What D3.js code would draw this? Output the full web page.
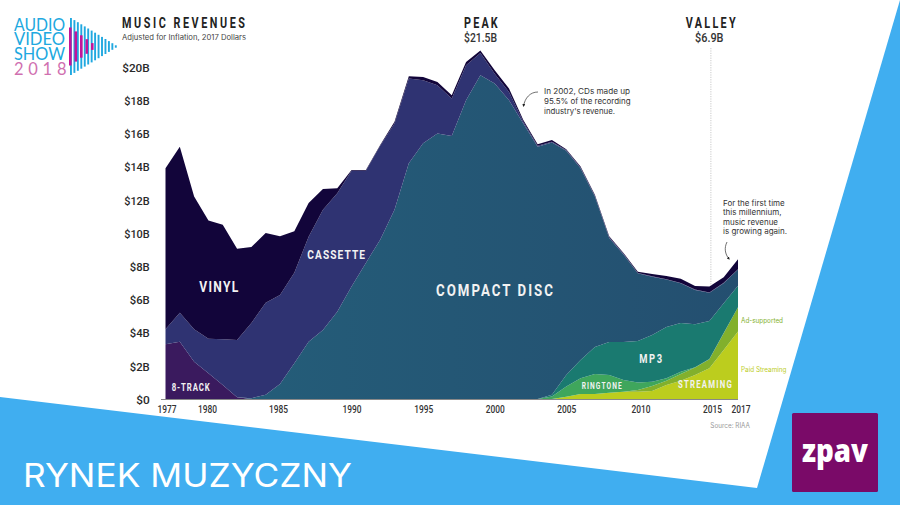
<!DOCTYPE html>
<html><head><meta charset="utf-8">
<script src="https://cdn.jsdelivr.net/npm/d3@7"></script>
<style>
html,body{margin:0;padding:0;background:#fff}
svg{display:block}
text{font-family:"Roboto",sans-serif}
</style></head><body>
<svg id="c" width="900" height="505"></svg>
<script>
const years = d3.range(1977, 2018);
const eightTrack = [3.3,3.45,2.25,1.55,.85,.1,0,0,0,0,0,0,0,0,0,0,0,0,0,0,0,0,0,0,0,0,0,0,0,0,0,0,0,0,0,0,0,0,0,0,0];
const paidStreaming = [0,0,0,0,0,0,0,0,0,0,0,0,0,0,0,0,0,0,0,0,0,0,0,0,0,0,0,0,.14,.3,.3,.38,.44,.44,.48,.84,1.1,1.45,1.85,2.95,4.06];
const adSupported = [0,0,0,0,0,0,0,0,0,0,0,0,0,0,0,0,0,0,0,0,0,0,0,0,0,0,0,0,0,0,0,0,0,.1,.3,.26,.4,.45,.54,1.01,1.46];
const ringtone = [0,0,0,0,0,0,0,0,0,0,0,0,0,0,0,0,0,0,0,0,0,0,0,0,0,0,0,.15,.61,.95,1.2,1.07,.71,.46,.26,.15,.14,.02,.02,.01,.01];
const mp3 = [0,0,0,0,0,0,0,0,0,0,0,0,0,0,0,0,0,0,0,0,0,0,0,0,0,0,0,.1,.7,1.1,1.63,1.98,2.28,2.5,2.81,3.08,2.94,2.58,2.29,1.8,1.29];
const compactDisc = [0,0,0,0,0,0,.05,.25,.9,2.15,3.45,4.15,5.25,6.77,8.2,9.6,11.4,14.2,15.4,16,15.85,18,19.5,19,18,16.6,15.2,15.2,13.5,11.55,9.07,6.27,5.27,4.07,3.52,2.87,2.39,2.07,1.7,1.21,.98];
const cassette = [.9,1.75,1.95,2.08,2.75,3.45,4.53,5.55,5.37,5.45,6.33,7.25,7.15,6.98,5.55,5.65,5.2,5.1,3.8,2.9,2.25,2.1,1.35,.6,.5,.1,.05,.05,.05,.05,.05,.05,.05,.02,.02,.02,.02,.02,.02,.02,.02];
const vinyl = [9.7,10,8,7.12,6.9,5.5,4.57,4.2,3.53,2.5,2.02,1.25,.3,.05,.05,.05,.1,.15,.2,.2,.2,.2,.15,.2,.2,.1,.1,.1,.05,.05,.05,.05,.05,.08,.14,.19,.26,.22,.35,.33,.6];
const seriesNames = ["eightTrack","paidStreaming","adSupported","ringtone","mp3","compactDisc","cassette","vinyl"];
const seriesValues = [eightTrack,paidStreaming,adSupported,ringtone,mp3,compactDisc,cassette,vinyl];
const seriesColors = ["#3a1a5e","#bccd1e","#82b02c","#3fa65c","#1a7a70","url(#cdGrad)","#2f3372","#12053a"];
const yTicks = [0,2,4,6,8,10,12,14,16,18,20];
const xTicks = [1977,1980,1985,1990,1995,2000,2005,2010,2015,2017];

const svg = d3.select("#c");
const x = d3.scaleLinear().domain([1977,2017]).range([165.5,738]);
const y = d3.scaleLinear().domain([0,20]).range([399,67]);

const defs = svg.append("defs");
const grad = defs.append("linearGradient").attr("id","cdGrad");
grad.append("stop").attr("offset","0%").attr("stop-color","#245f7a");
grad.append("stop").attr("offset","100%").attr("stop-color","#244f70");

svg.append("rect").attr("width",900).attr("height",505).attr("fill","#40aef0");
svg.append("path").attr("d","M0,0H900L757,488L0,397Z").attr("fill","#fff");

const table = years.map((yr,i)=>{const o={year:yr};seriesNames.forEach((n,k)=>o[n]=seriesValues[k][i]);return o;});
const stack = d3.stack().keys(seriesNames)(table);
const area = d3.area().x(d=>x(d.data.year)).y0(d=>y(d[0])).y1(d=>y(d[1]));
svg.append("g").selectAll("path").data(stack).join("path")
  .attr("d",area).attr("fill",(d,i)=>seriesColors[i]);

// axes
const yAxis = svg.append("g").attr("transform","translate(149.7,0)")
  .call(d3.axisLeft(y).tickValues(yTicks).tickSize(0).tickPadding(0).tickFormat(d=>"$"+d+(d?"B":"")));
yAxis.select(".domain").remove();
yAxis.selectAll("text").attr("font-size",11.5).attr("font-weight",500).attr("fill","#2a2a2a")
  .attr("dy","0.38em")
  .attr("textLength",d=>d===0?13.5:(d>=10&&d<20?25.5:(d===20?27.5:20)))
  .attr("lengthAdjust","spacingAndGlyphs");
const xAxis = svg.append("g").attr("transform","translate(0,399)")
  .call(d3.axisBottom(x).tickValues(xTicks).tickSize(0).tickFormat(d3.format("d")).tickPadding(7));
xAxis.select(".domain").remove();
xAxis.selectAll("text").attr("font-size",10).attr("font-weight",500).attr("fill","#333")
  .attr("dx",d=>d>=2010?2.6:d===1985?-2:d===1980?-1.4:d===1977?1:0)
  .attr("textLength",19).attr("lengthAdjust","spacingAndGlyphs");
svg.append("line").attr("x1",161).attr("x2",x(2017)).attr("y1",399.5).attr("y2",399.5).attr("stroke","#888").attr("stroke-width",1);

svg.append("line").attr("x1",x(2015)+1.5).attr("x2",x(2015)+1.5).attr("y1",48).attr("y2",286)
  .attr("stroke","#bbb").attr("stroke-width",.8).attr("stroke-dasharray","1.2 1.2");

function t(txt,px,py,size,opt={}){
  const e=svg.append("text").attr("font-size",size).text(txt)
    .attr("text-anchor",opt.anchor||"start").attr("fill",opt.fill||"#222");
  if(opt.sx){
    // condensed, letter-spaced display face: narrow glyphs, spread to the measured width
    e.attr("transform",`translate(${px},${py}) scale(${opt.sx},1)`).attr("x",0).attr("y",0)
     .attr("textLength",opt.w/opt.sx).attr("lengthAdjust","spacing");
  } else {
    e.attr("x",px).attr("y",py);
    if(opt.w)e.attr("textLength",opt.w).attr("lengthAdjust",opt.adj||"spacingAndGlyphs");
  }
  if(opt.weight)e.attr("font-weight",opt.weight);
  if(opt.family)e.style("font-family",opt.family);
  return e;
}
const head=(s,px,py,w,sz=15)=>t(s,px,py,sz,{w,sx:.72,weight:700,fill:"#222"});
head("MUSIC REVENUES",122,27.5,123);
t("Adjusted for Inflation, 2017 Dollars",122,40,7.4,{family:"Inter",fill:"#444",w:124});
head("PEAK",464,27.5,33.7);
t("$21.5B",464,41.5,12,{w:33,weight:500,fill:"#333"});
head("VALLEY",685.7,27.5,50);
t("$6.9B",695,41.5,12,{w:28.5,weight:500,fill:"#333"});

const lab=(s,px,py,sz,w)=>t(s,px,py,sz,{w,sx:.78,weight:700,fill:"#f2f2f2"});
lab("VINYL",199.3,292,15.5,39);
lab("CASSETTE",307.3,259.3,13,57.7);
lab("COMPACT DISC",436,295.5,17,117);
lab("8-TRACK",171.7,391,10,38);
lab("RINGTONE",581.7,388.7,8.5,40);
lab("MP3",639.3,363.3,12,22.7);
lab("STREAMING",678,387.7,10,53.7);
t("Ad-supported",741,323,7,{family:"Inter",fill:"#82b02c",w:42});
t("Paid Streaming",741,372,7,{family:"Inter",fill:"#bccd1e",w:45.5});
t("Source: RIAA",710.3,427.7,7,{family:"Inter",fill:"#999",w:39.7});

[["In 2002, CDs made up",86],["95.5% of the recording",86.5],["industry's revenue.",71]].forEach(([s,w],i)=>
  t(s,544,94+i*9.8,7.8,{family:"Inter",fill:"#333",w}));
[["For the first time",61.7],["this millennium,",58.5],["music revenue",55],["is growing again.",64]].forEach(([s,w],i)=>
  t(s,723,206+i*9.4,7.8,{family:"Inter",fill:"#333",w}));
defs.append("marker").attr("id","ah").attr("viewBox","0 0 6 6").attr("refX",4).attr("refY",3)
  .attr("markerWidth",4.5).attr("markerHeight",4.5).attr("orient","auto")
  .append("path").attr("d","M0,0L6,3L0,6Z").attr("fill","#222");
svg.append("path").attr("d","M538,92C530,92 525,98 523.5,106").attr("fill","none").attr("stroke","#333").attr("stroke-width",.7).attr("marker-end","url(#ah)");
svg.append("path").attr("d","M727,242C724,248 725,254 729,259").attr("fill","none").attr("stroke","#333").attr("stroke-width",.7).attr("marker-end","url(#ah)");

// event logo: one text block, so the tight line spacing stays intact
const logo = svg.append("text").attr("font-size",17).attr("fill","#20a8e0").style("font-family","Lato");
[["AUDIO",30.7],["VIDEO",45],["SHOW",59.5]].forEach(([s,py])=>
  logo.append("tspan").attr("x",14).attr("y",py).attr("textLength",51).attr("lengthAdjust","spacingAndGlyphs").text(s));
logo.append("tspan").attr("x",14).attr("y",75.3).attr("font-size",16.5).attr("fill","#d070b0")
  .attr("textLength",52.5).attr("lengthAdjust","spacing").text("2018");
svg.append("g").selectAll("rect").data(d3.range(14)).join("rect")
  .attr("x",d=>70+d*3.45).attr("width",1.9)
  .attr("y",d=>46.5-(28.5-d*2.1)).attr("height",d=>2*(28.5-d*2.1)).attr("fill","#20a8e0");
svg.append("g").selectAll("rect").data(d3.range(5)).join("rect")
  .attr("x",d=>69+d*5.5).attr("width",2.6)
  .attr("y",d=>46.5-(19-d*3.9)).attr("height",d=>2*(19-d*3.9)).attr("fill","#c4139a");

// footer
t("RYNEK MUZYCZNY",23,487.3,33,{family:"Inter",fill:"#fff",w:329});
svg.append("rect").attr("x",792).attr("y",413).attr("width",86).attr("height",79).attr("rx",1.5).attr("fill","#7a0a68");
t("zpav",802,461.7,31,{family:"Open Sans",fill:"#fff",weight:800,w:66});
</script></body></html>
